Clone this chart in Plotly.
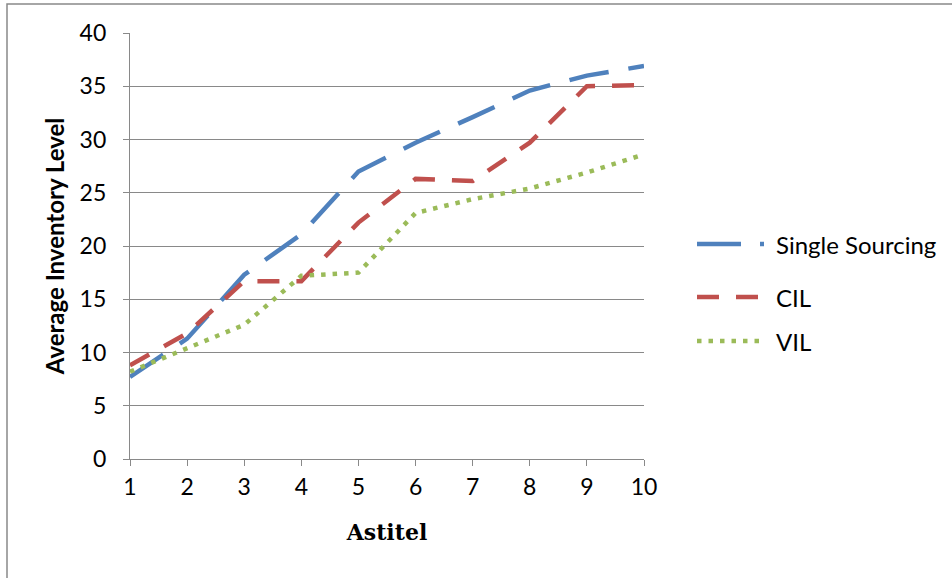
import plotly.graph_objects as go

x_vals = [1, 2, 3, 4, 5, 6, 7, 8, 9, 10]
single_sourcing = [7.7, 11.3, 17.3, 21.1, 27.0, 29.7, 32.1, 34.6, 36.0, 36.9]
cil = [8.8, 11.8, 16.7, 16.7, 22.2, 26.3, 26.1, 29.7, 35.0, 35.1]
vil = [8.2, 10.4, 12.6, 17.2, 17.5, 23.1, 24.4, 25.4, 26.9, 28.6]
series_names = ["Single Sourcing", "CIL", "VIL"]
y_ticks = [0, 5, 10, 15, 20, 25, 30, 35, 40]

W, H = 952, 578
L, R, T, B = 130, 644, 33, 459
pw, ph = R - L, B - T

def px(xp):
    return (xp - L) / pw

def py(yp):
    return (B - yp) / ph

blue = "#4F81BD"
red = "#C0504D"
green = "#9BBB59"
grid = "#898989"

styles = [
    dict(color=blue, width=4.5, dash="40px,20px"),
    dict(color=red, width=4.5, dash="22px,17px"),
    dict(color=green, width=4.5, dash="4.5px,7px"),
]

fig = go.Figure()
for name, ys, st in zip(series_names, [single_sourcing, cil, vil], styles):
    fig.add_trace(go.Scatter(x=x_vals, y=ys, mode="lines", name=name,
                             line=st, showlegend=False))

tick_font = dict(family="Lato, Open Sans, sans-serif", size=23, color="#000000")
leg_font = dict(family="Lato, Open Sans, sans-serif", size=24, color="#000000")

fig.update_layout(
    width=W, height=H,
    margin=dict(l=L, r=W - R, t=T, b=H - B, pad=0),
    paper_bgcolor="white", plot_bgcolor="white",
    xaxis=dict(range=[1, 10], tickvals=x_vals, ticktext=[str(v) for v in x_vals],
               showgrid=False, zeroline=False, showline=True, linecolor=grid, linewidth=1.3,
               ticks="outside", ticklen=6, tickcolor=grid, tickwidth=1.3,
               tickfont=tick_font, ticklabelstandoff=1,
               title=dict(text="<b>Astitel</b>",
                          font=dict(family="DejaVu Serif, serif", size=22, color="#000"),
                          standoff=25)),
    yaxis=dict(range=[0, 40], tickvals=y_ticks, showgrid=True, gridcolor=grid, gridwidth=1.3,
               zeroline=False, showline=True, linecolor=grid, linewidth=1.3,
               ticks="outside", ticklen=6, tickcolor=grid, tickwidth=1.3,
               tickfont=tick_font, ticklabelstandoff=12,
               title=dict(text="<b>Average Inventory Level</b>",
                          font=dict(family="Lato, Open Sans, sans-serif", size=24, color="#000"),
                          standoff=8)),
)

# outer chart frame
fig.add_shape(type="rect", xref="paper", yref="paper",
              x0=px(7), x1=px(W + 5), y0=py(H + 5), y1=py(4),
              line=dict(color=grid, width=1.5), fillcolor="rgba(0,0,0,0)", layer="below")

# manual legend
leg_y = [244, 297, 341]
for name, st, yy in zip(series_names, styles, leg_y):
    if name == "Single Sourcing":
        fig.add_shape(type="line", xref="paper", yref="paper",
                      x0=px(697), x1=px(741), y0=py(yy), y1=py(yy),
                      line=dict(color=st["color"], width=4.5))
        fig.add_shape(type="line", xref="paper", yref="paper",
                      x0=px(760), x1=px(764), y0=py(yy), y1=py(yy),
                      line=dict(color=st["color"], width=4.5))
    else:
        fig.add_shape(type="line", xref="paper", yref="paper",
                      x0=px(697), x1=px(764), y0=py(yy), y1=py(yy),
                      line=st)
    fig.add_annotation(text=name, xref="paper", yref="paper", x=px(774), y=py(yy),
                       xanchor="left", yanchor="middle", showarrow=False,
                       font=leg_font)

fig.write_html("out.html")
